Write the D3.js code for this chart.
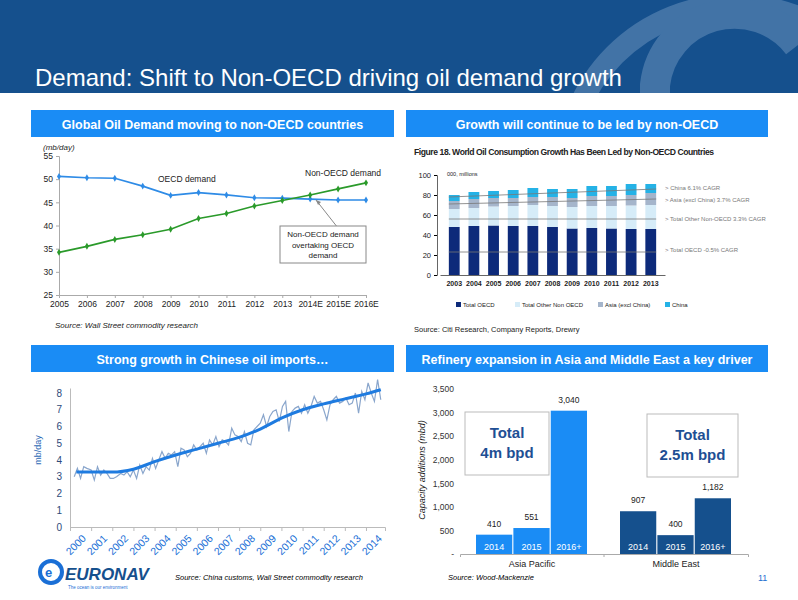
<!DOCTYPE html>
<html><head><meta charset="utf-8">
<script src="https://cdn.jsdelivr.net/npm/d3@7"></script>
<style>body{margin:0;background:#fff}svg{font-family:Arial,"Liberation Sans",sans-serif}</style>
</head><body><svg id="s" width="798" height="600"></svg>
<script>
// ---- data ----
const demandYears=["2005","2006","2007","2008","2009","2010","2011","2012","2013","2014E","2015E","2016E"];
const oecdDemand=[50.6,50.3,50.2,48.5,46.5,47.1,46.6,46.0,45.9,45.7,45.5,45.5];
const nonOecdDemand=[34.2,35.5,37.0,38.0,39.2,41.5,42.6,44.2,45.4,46.6,47.9,49.2];
const demandTicks=[25,30,35,40,45,50,55];

const consYears=["2003","2004","2005","2006","2007","2008","2009","2010","2011","2012","2013"];
const consOECD=[48,49,49.5,49,49,48,46.5,47,46.5,46,46];
const consOther=[18,18,19,20,21,21,21.5,22,22.5,23.5,24];
const consAsia=[8,9,8.5,8,8,9,9,10,10,10.5,12];
const consChina=[6,7,7,8,9,8,9,10,10,11,9];
const consTicks=[0,20,40,60,80,100];
const consLegend=["Total OECD","Total Other Non OECD","Asia (excl China)","China"];
const consTrendLabels=["China 6.1% CAGR","Asia (excl China) 3.7% CAGR","Total Other Non-OECD 3.3% CAGR","Total OECD -0.5% CAGR"];

const importYears=["2000","2001","2002","2003","2004","2005","2006","2007","2008","2009","2010","2011","2012","2013","2014"];
const importTime=[2000.2,2000.35,2000.5,2000.65,2000.8,2001.0,2001.15,2001.3,2001.45,2001.6,2001.75,2001.9,2002.05,2002.2,2002.4,2002.55,2002.7,2002.85,2003.0,2003.15,2003.3,2003.45,2003.6,2003.75,2003.9,2004.05,2004.2,2004.35,2004.5,2004.65,2004.8,2004.95,2005.1,2005.25,2005.4,2005.55,2005.7,2005.85,2006.0,2006.15,2006.3,2006.45,2006.6,2006.75,2006.9,2007.05,2007.2,2007.35,2007.5,2007.65,2007.8,2007.95,2008.1,2008.25,2008.4,2008.55,2008.7,2008.85,2009.0,2009.15,2009.3,2009.45,2009.6,2009.75,2009.9,2010.05,2010.2,2010.35,2010.5,2010.65,2010.8,2010.95,2011.1,2011.25,2011.4,2011.55,2011.7,2011.85,2012.0,2012.15,2012.3,2012.45,2012.6,2012.75,2012.9,2013.05,2013.2,2013.35,2013.5,2013.65,2013.8,2013.95,2014.1,2014.25,2014.4,2014.55,2014.7];
const importVals=[3.0,3.5,2.9,3.6,3.5,3.4,2.8,3.6,3.1,3.4,3.2,2.9,2.9,3.0,3.2,3.1,3.3,3.0,3.4,2.9,3.7,3.2,3.6,3.4,4.1,3.5,4.0,4.5,4.1,4.4,4.3,4.5,3.6,4.7,4.6,4.2,4.4,4.9,4.6,4.8,5.0,4.4,5.2,4.9,5.4,4.8,5.2,5.1,4.9,5.9,5.5,5.4,5.1,5.7,5.0,4.9,5.8,6.0,6.2,6.7,6.0,6.6,6.9,7.0,6.3,7.2,7.5,5.7,6.9,7.1,7.2,6.8,7.3,6.8,7.2,7.8,7.4,7.5,7.0,6.4,7.3,7.6,7.8,7.4,7.5,7.7,7.3,7.4,8.0,6.8,8.1,7.6,8.6,8.0,7.5,8.8,7.6];
const trendTime=[2000.3,2001,2002,2003,2004,2005,2006,2007,2008,2009,2010,2011,2012,2013,2014,2014.7];
const trendVals=[3.28,3.28,3.28,3.45,3.9,4.3,4.65,5.0,5.35,5.85,6.5,7.0,7.35,7.65,7.95,8.2];
const importTicks=[0,1,2,3,4,5,6,7,8];

const refRegions=["Asia Pacific","Middle East"];
const refPeriods=["2014","2015","2016+"];
const refAsia=[410,551,3040];
const refME=[907,400,1182];
const refTicks=[0,500,1000,1500,2000,2500,3000,3500];

const svg=d3.select("#s");
// ---- header ----
svg.append("rect").attr("width",798).attr("height",93).attr("fill","#15508d");
const hg=svg.append("g").attr("opacity",0.3);
hg.append("circle").attr("cx",735).attr("cy",175).attr("r",170).attr("fill","none").attr("stroke","#a9c4e2").attr("stroke-width",22);
hg.append("path").attr("d","M655,93 L655,85 A80,80 0 0 1 798,45").attr("fill","none").attr("stroke","#a9c4e2").attr("stroke-width",30);
svg.append("rect").attr("y",93).attr("width",798).attr("height",507).attr("fill","#fff");
svg.append("text").attr("x",35).attr("y",86).attr("fill","#fff").attr("font-size",24).text("Demand: Shift to Non-OECD driving oil demand growth");
function panelHeader(x,y,w,t){svg.append("rect").attr("x",x).attr("y",y).attr("width",w).attr("height",27).attr("fill","#1a8cf5");
svg.append("text").attr("x",x+w/2).attr("y",y+19).attr("text-anchor","middle").attr("fill","#fff").attr("font-weight","bold").attr("font-size",12.5).text(t);}
panelHeader(31,110,363,"Global Oil Demand  moving to non-OECD countries");
panelHeader(406,110,362,"Growth will continue to be led by non-OECD");
panelHeader(31,345,363,"Strong growth in Chinese oil imports…");
panelHeader(406,345,362,"Refinery expansion in Asia and Middle East a key driver");

// ---- chart 1 ----
{
const x=d3.scalePoint().domain(demandYears).range([59,366]);
const y=d3.scaleLinear().domain([25,55]).range([295,156]);
const g=svg.append("g").attr("font-size",8.5).attr("fill","#222");
g.append("g").attr("transform","translate(59,0)").call(d3.axisLeft(y).tickValues(demandTicks).tickSize(3)).call(a=>{a.select(".domain").attr("stroke","#aaa");a.selectAll("line").attr("stroke","#aaa");a.selectAll("text").attr("font-size",8.5).attr("fill","#222")});
g.append("g").attr("transform","translate(0,295)").call(d3.axisBottom(x).tickSize(3)).call(a=>{a.select(".domain").attr("stroke","#aaa");a.selectAll("line").attr("stroke","#aaa");a.selectAll("text").attr("font-size",8.5).attr("fill","#222")});
const line=d3.line().x((d,i)=>x(demandYears[i])).y(d=>y(d));
[[oecdDemand,"#2e8be6"],[nonOecdDemand,"#2a9a2a"]].forEach(([v,c])=>{
g.append("path").attr("d",line(v)).attr("fill","none").attr("stroke",c).attr("stroke-width",1.6);
g.selectAll(null).data(v).join("path").attr("d",d3.symbol(d3.symbolDiamond,14)).attr("transform",(d,i)=>`translate(${x(demandYears[i])},${y(d)})`).attr("fill",c);});
g.append("text").attr("x",43).attr("y",150).attr("font-style","italic").attr("font-size",8).text("(mb/day)");
g.append("text").attr("x",158).attr("y",182).text("OECD demand");
g.append("text").attr("x",305).attr("y",176).text("Non-OECD demand");
g.append("line").attr("x1",338).attr("y1",228).attr("x2",316).attr("y2",200).attr("stroke","#888");
g.append("path").attr("d","M316,200 l5,2 l-3,3z").attr("fill","#888");
g.append("rect").attr("x",280).attr("y",226).attr("width",86).attr("height",37).attr("fill","#fff").attr("stroke","#888");
["Non-OECD demand","overtaking OECD","demand"].forEach((t,i)=>g.append("text").attr("x",323).attr("y",237+i*10.5).attr("text-anchor","middle").attr("font-size",8).text(t));
g.append("text").attr("x",55).attr("y",328).attr("font-style","italic").attr("font-size",8).text("Source: Wall Street commodity research");
}

// ---- chart 2 ----
{
const x=d3.scaleBand().domain(consYears).range([440,665]).padding(0.45);
const y=d3.scaleLinear().domain([0,100]).range([275,175]);
const g=svg.append("g").attr("font-size",7).attr("fill","#222");
g.append("text").attr("x",414).attr("y",155).attr("font-weight","bold").attr("font-size",8.6).attr("textLength",300).text("Figure 18. World Oil Consumption Growth Has Been Led by Non-OECD Countries");
g.append("g").attr("transform","translate(437,0)").call(d3.axisLeft(y).tickValues(consTicks).tickSize(3)).call(a=>{a.select(".domain").attr("stroke","#666");a.selectAll("text").attr("font-size",7.5).attr("fill","#222")});
g.append("g").attr("transform","translate(0,275)").call(d3.axisBottom(x).tickSize(0).tickPadding(6)).call(a=>{a.select(".domain").attr("stroke","#666");a.selectAll("text").attr("font-size",7).attr("font-weight","bold").attr("fill","#222")});
g.append("text").attr("x",447).attr("y",176).attr("font-size",5.5).text("000, millions");
const keys=["o","t","a","c"],cols=["#0d2a7a","#d6ecf8","#a5b5cb","#25b2e6"];
const rows=consYears.map((yy,i)=>({yy,o:consOECD[i],t:consOther[i],a:consAsia[i],c:consChina[i]}));
const st=d3.stack().keys(keys)(rows);
st.forEach((s,k)=>g.selectAll(null).data(s).join("rect").attr("x",d=>x(d.data.yy)).attr("width",x.bandwidth()).attr("y",d=>y(d[1])).attr("height",d=>y(d[0])-y(d[1])).attr("fill",cols[k]));
const tl=[[78,86,188],[71,76,200],[56,56,219],[23,23,250]];
tl.forEach(([a,b,ly],i)=>{g.append("line").attr("x1",x(consYears[0])).attr("y1",y(a)).attr("x2",x(consYears[10])+x.bandwidth()).attr("y2",y(b)).attr("stroke","#777").attr("stroke-width",0.8);
g.append("text").attr("x",665).attr("y",ly+2).attr("font-size",6).attr("fill","#777").text("> "+consTrendLabels[i]);});
consLegend.forEach((t,i)=>{const lx=[456,515,598,665][i];g.append("rect").attr("x",lx).attr("y",302).attr("width",5).attr("height",5).attr("fill",cols[i]);g.append("text").attr("x",lx+7).attr("y",307).attr("font-size",6).text(t);});
g.append("text").attr("x",414).attr("y",332).attr("font-size",7.5).text("Source: Citi Research, Company Reports, Drewry");
}

// ---- chart 3 ----
{
const x=d3.scaleLinear().domain([2000,2014.9]).range([70,385]);
const y=d3.scaleLinear().domain([0,8.3]).range([527,388]);
const g=svg.append("g");
g.append("g").attr("transform","translate(70,0)").call(d3.axisLeft(y).tickValues(importTicks).tickSize(0).tickPadding(8)).call(a=>{a.select(".domain").attr("stroke","#bbb");a.selectAll("text").attr("font-size",10).attr("fill","#2d4a7a")});
g.append("g").attr("transform","translate(0,527)").call(d3.axisBottom(x).tickValues(importYears.map(Number)).tickFormat(d3.format("d")).tickSize(4)).call(a=>{a.select(".domain").attr("stroke","#bbb");a.selectAll("line").attr("stroke","#bbb");a.selectAll("text").attr("font-size",10.5).attr("fill","#1a6fd6").attr("text-anchor","end").attr("transform","translate(6,2) rotate(-45)")});
g.append("path").attr("d",d3.line().x((d,i)=>x(importTime[i])).y(d=>y(d))(importVals)).attr("fill","none").attr("stroke","#8aa6cc").attr("stroke-width",1.2);
g.append("path").attr("d",d3.line().curve(d3.curveMonotoneX).x((d,i)=>x(trendTime[i])).y(d=>y(d))(trendVals)).attr("fill","none").attr("stroke","#1e7be0").attr("stroke-width",3);
g.append("text").attr("transform","translate(41,450) rotate(-90)").attr("text-anchor","middle").attr("font-size",9).attr("fill","#2d6ab5").text("mb/day");
}

// ---- chart 4 ----
{
const y=d3.scaleLinear().domain([0,3500]).range([554,389]);
const x0=d3.scaleBand().domain(refRegions).range([460,748]);
const x1=d3.scaleBand().domain(refPeriods).range([16,127]).paddingInner(0.03);
const g=svg.append("g");
g.append("g").attr("transform","translate(460,0)").call(d3.axisLeft(y).tickValues(refTicks).tickSize(0).tickPadding(6).tickFormat(d=>d===0?"-":d3.format(",")(d))).call(a=>{a.select(".domain").remove();a.selectAll("text").attr("font-size",8.5).attr("fill","#333")});
g.append("g").attr("transform","translate(0,554)").call(d3.axisBottom(x0).tickSize(0).tickPadding(7).tickSizeOuter(3)).call(a=>{a.select(".domain").attr("stroke","#aaa");a.selectAll("text").attr("font-size",9).attr("fill","#222")});
g.append("line").attr("x1",604).attr("x2",604).attr("y1",554).attr("y2",557).attr("stroke","#aaa");
[[refAsia,"#1a8cf5",refRegions[0]],[refME,"#15508d",refRegions[1]]].forEach(([v,c,r])=>{
v.forEach((d,i)=>{const bx=x0(r)+x1(refPeriods[i]);
g.append("rect").attr("x",bx).attr("width",x1.bandwidth()).attr("y",y(d)).attr("height",y(0)-y(d)).attr("fill",c);
g.append("text").attr("x",bx+x1.bandwidth()/2).attr("y",550).attr("text-anchor","middle").attr("fill","#fff").attr("font-size",9).text(refPeriods[i]);
g.append("text").attr("x",bx+x1.bandwidth()/2).attr("y",y(d)-8).attr("text-anchor","middle").attr("fill","#222").attr("font-size",8.5).text(d3.format(",")(d));});});
[[465,412,84,"Total","4m bpd"],[647,414,91,"Total","2.5m bpd"]].forEach(([bx,by,w,a,b])=>{
g.append("rect").attr("x",bx).attr("y",by).attr("width",w).attr("height",63).attr("fill","#fff").attr("stroke","#bbb");
g.append("text").attr("x",bx+w/2).attr("y",by+26).attr("text-anchor","middle").attr("font-size",15).attr("font-weight","bold").attr("fill","#1e4f94").text(a);
g.append("text").attr("x",bx+w/2).attr("y",by+46).attr("text-anchor","middle").attr("font-size",15).attr("font-weight","bold").attr("fill","#1e4f94").text(b);});
g.append("text").attr("transform","translate(425,470) rotate(-90)").attr("text-anchor","middle").attr("font-size",9).attr("font-style","italic").attr("fill","#222").text("Capacity additions (mbd)");
g.append("text").attr("x",448).attr("y",580).attr("font-size",7.5).attr("font-style","italic").text("Source: Wood-Mackenzie");
g.append("text").attr("x",758).attr("y",581).attr("font-size",9).attr("fill","#1e6fd0").text("11");
}
// footer
svg.append("circle").attr("cx",51).attr("cy",572).attr("r",11).attr("fill","none").attr("stroke","#1a6fd6").attr("stroke-width",4);
svg.append("text").attr("x",45).attr("y",577).attr("font-size",13).attr("font-weight","bold").attr("fill","#1a6fd6").text("e");
svg.append("text").attr("x",65).attr("y",580).attr("font-size",17).attr("font-weight","bold").attr("font-style","italic").attr("fill","#15508d").text("EURONAV");
svg.append("text").attr("x",68).attr("y",589).attr("font-size",4.5).attr("fill","#1a6fd6").text("The ocean is our environment");
svg.append("text").attr("x",175).attr("y",580).attr("font-size",7.5).attr("font-style","italic").text("Source: China customs, Wall Street commodity research");
</script></body></html>
